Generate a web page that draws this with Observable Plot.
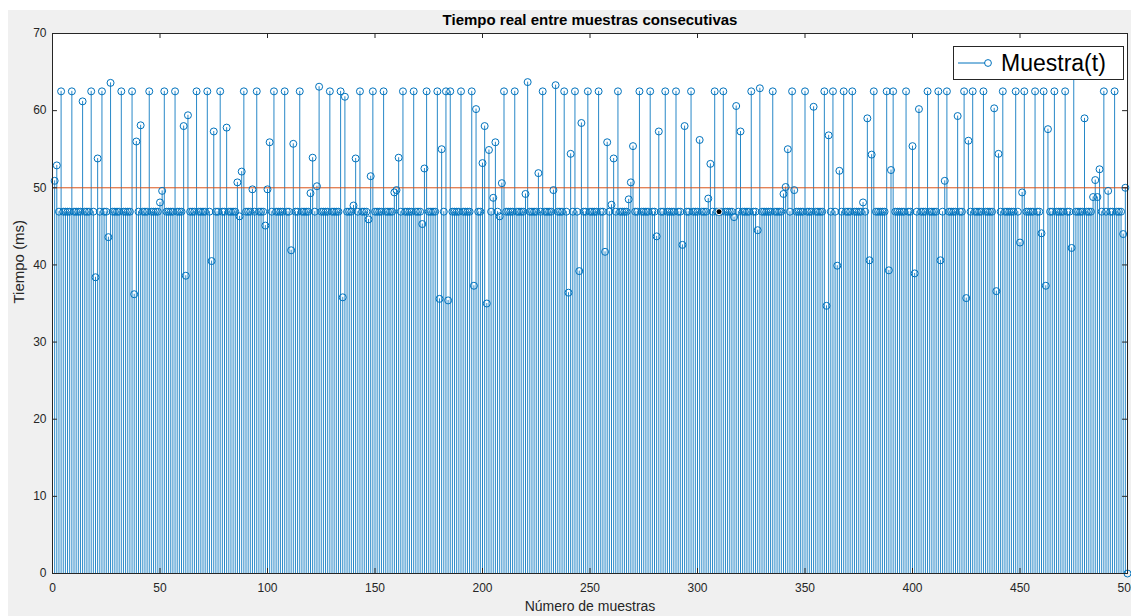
<!DOCTYPE html>
<html>
<head>
<meta charset="utf-8">
<script src="https://cdn.jsdelivr.net/npm/d3@7"></script>
<script src="https://cdn.jsdelivr.net/npm/@observablehq/plot@0.6"></script>
<style>
  body { margin: 0; background: #ffffff; font-family: "Liberation Sans", Arial, sans-serif; }
  #fig { position: absolute; left: 8px; top: 10px; width: 1123px; height: 606px; background: #f0f0f0; }
  #chart { position: absolute; left: 0; top: 0; width: 1131px; height: 616px; }
  #legend {
    position: absolute; left: 953px; top: 46px; width: 171px; height: 34px;
    box-sizing: border-box; border: 1px solid #262626; background: #ffffff;
    display: flex; align-items: center;
  }
  #legend svg { margin-left: 3px; }
  #legend span { font-size: 23px; color: #000; margin-left: 8px; line-height: 1; }
</style>
</head>
<body>
<div id="fig"></div>
<div id="chart"></div>
<div id="legend">
  <svg width="36" height="14"><line x1="1" y1="7" x2="28" y2="7" stroke="#0072BD" stroke-width="1"/><circle cx="31" cy="7" r="3.4" fill="none" stroke="#0072BD" stroke-width="1"/></svg>
  <span>Muestra(t)</span>
</div>
<script>
// Tiempo (ms) medido entre muestras consecutivas, muestras 1..500
const samples = [
  50.9, 52.9, 46.9, 62.5, 46.9, 46.9, 46.9, 46.9, 62.5, 46.9, 46.9, 46.9, 46.9, 61.2, 46.9, 46.9, 46.9, 62.5, 46.9, 38.4,
  53.8, 46.9, 62.5, 46.9, 46.9, 43.6, 63.6, 46.9, 46.9, 46.9, 46.9, 62.5, 46.9, 46.9, 46.9, 46.9, 62.5, 36.2, 56.0, 46.9,
  58.1, 46.9, 46.9, 46.9, 62.5, 46.9, 46.9, 46.9, 46.9, 48.1, 49.6, 62.5, 46.9, 46.9, 46.9, 46.9, 62.5, 46.9, 46.9, 46.9,
  58.0, 38.6, 59.4, 46.9, 46.9, 46.9, 62.5, 46.9, 46.9, 46.9, 46.9, 62.5, 46.9, 40.5, 57.3, 46.9, 46.9, 62.5, 46.9, 46.9,
  57.8, 46.9, 46.9, 46.9, 46.9, 50.7, 46.3, 52.1, 62.5, 46.9, 46.9, 46.9, 49.8, 46.9, 62.5, 46.9, 46.9, 46.9, 45.1, 49.8,
  55.9, 46.9, 62.5, 46.9, 46.9, 46.9, 46.9, 62.5, 46.9, 46.9, 41.9, 55.7, 46.9, 46.9, 62.5, 46.9, 46.9, 46.9, 46.9, 49.3,
  53.9, 46.9, 50.2, 63.1, 46.9, 46.9, 46.9, 46.9, 62.5, 46.9, 46.9, 46.9, 46.9, 62.5, 35.8, 61.8, 46.9, 46.9, 46.9, 47.7,
  53.8, 46.9, 62.5, 46.9, 46.9, 46.9, 45.9, 51.5, 62.5, 46.9, 46.9, 46.9, 46.9, 62.5, 46.9, 46.9, 46.9, 46.9, 49.4, 49.7,
  53.9, 46.9, 62.5, 46.9, 46.9, 46.9, 46.9, 62.5, 46.9, 46.9, 46.9, 45.3, 52.5, 62.5, 46.9, 46.9, 46.9, 46.9, 62.5, 35.6,
  55.0, 46.9, 62.5, 35.4, 62.5, 46.9, 46.9, 46.9, 46.9, 62.5, 46.9, 46.9, 46.9, 46.9, 62.5, 37.3, 60.2, 46.9, 46.9, 53.2,
  58.0, 35.0, 54.9, 46.9, 48.7, 55.9, 46.9, 46.3, 50.6, 62.5, 46.9, 46.9, 46.9, 46.9, 62.5, 46.9, 46.9, 46.9, 46.9, 49.2,
  63.7, 46.9, 46.9, 46.9, 46.9, 51.9, 46.9, 62.5, 46.9, 46.9, 46.9, 46.9, 49.7, 63.3, 46.9, 46.9, 46.9, 62.5, 46.9, 36.4,
  54.4, 46.9, 62.5, 46.9, 39.2, 58.4, 46.9, 46.9, 62.5, 46.9, 46.9, 46.9, 46.9, 62.5, 46.9, 46.9, 41.7, 55.9, 46.9, 47.8,
  53.8, 46.9, 62.5, 46.9, 46.9, 46.9, 46.9, 48.5, 50.7, 55.4, 46.9, 46.9, 62.5, 46.9, 46.9, 46.9, 46.9, 62.5, 46.9, 46.9,
  43.7, 57.3, 46.9, 46.9, 62.5, 46.9, 46.9, 46.9, 46.9, 62.5, 46.9, 46.9, 42.6, 58.0, 46.9, 46.9, 62.5, 46.9, 46.9, 46.9,
  56.2, 46.9, 46.9, 46.9, 48.6, 53.1, 46.9, 62.5, 46.9, 46.9, 46.9, 62.5, 46.9, 46.9, 46.9, 46.9, 46.2, 60.6, 46.9, 57.3,
  46.9, 46.9, 46.9, 46.9, 62.5, 46.9, 46.9, 44.5, 62.9, 46.9, 46.9, 46.9, 46.9, 46.9, 62.5, 46.9, 46.9, 46.9, 46.9, 49.2,
  50.1, 55.0, 46.9, 62.5, 49.7, 46.9, 46.9, 46.9, 46.9, 62.5, 46.9, 46.9, 46.9, 60.5, 46.9, 46.9, 46.9, 46.9, 62.5, 34.7,
  56.8, 46.9, 62.5, 46.9, 39.9, 52.2, 46.9, 62.5, 46.9, 46.9, 46.9, 62.5, 46.9, 46.9, 46.9, 46.9, 48.1, 46.9, 59.0, 40.6,
  54.3, 62.5, 46.9, 46.9, 46.9, 46.9, 46.9, 62.5, 39.3, 52.3, 62.5, 46.9, 46.9, 46.9, 46.9, 46.9, 62.5, 46.9, 46.9, 55.4,
  38.9, 46.9, 60.2, 46.9, 46.9, 46.9, 62.5, 46.9, 46.9, 46.9, 46.9, 62.5, 40.6, 46.9, 50.9, 62.5, 46.9, 46.9, 46.9, 46.9,
  59.3, 46.9, 46.9, 62.5, 35.7, 56.1, 46.9, 62.5, 46.9, 46.9, 46.9, 46.9, 62.5, 46.9, 46.9, 46.9, 46.9, 60.3, 36.6, 54.4,
  46.9, 62.5, 46.9, 46.9, 46.9, 46.9, 46.9, 62.5, 46.9, 42.9, 49.4, 62.5, 46.9, 46.9, 46.9, 46.9, 62.5, 46.9, 46.9, 44.1,
  62.5, 37.3, 57.6, 46.9, 46.9, 62.5, 46.9, 46.9, 46.9, 46.9, 62.5, 46.9, 46.9, 42.2, 66.0, 46.9, 46.9, 46.9, 46.9, 59.0,
  46.9, 46.9, 46.9, 48.8, 51.0, 48.8, 52.4, 46.9, 62.5, 46.9, 49.6, 46.9, 46.9, 62.5, 46.9, 46.9, 46.9, 44.0, 50.0, 0
];

// Periodo nominal de muestreo (línea de referencia)
const nominal = [50];
// Muestra marcada con el cursor de datos
const cursorSample = [310];

const xTicks = [0, 50, 100, 150, 200, 250, 300, 350, 400, 450, 500];
const yTicks = [0, 10, 20, 30, 40, 50, 60, 70];

const data = samples.map((t, i) => ({ n: i + 1, t }));
const marked = data.filter(d => cursorSample.includes(d.n));

const axisColor = "#262626";
const stemColor = "#0072BD";

const chart = Plot.plot({
  width: 1131,
  height: 616,
  marginLeft: 52,
  marginRight: 4,
  marginTop: 33,
  marginBottom: 43,
  style: { background: "transparent", fontFamily: "'Liberation Sans', Arial, sans-serif", color: axisColor },
  x: { domain: [0, 500] },
  y: { domain: [0, 70] },
  marks: [
    Plot.frame({ fill: "#ffffff", stroke: null }),
    // stems
    Plot.ruleX(data, { x: "n", y1: 0, y2: "t", stroke: stemColor, strokeWidth: 0.85 }),
    Plot.ruleY(nominal, { y: d => d, stroke: "#D95319", strokeWidth: 1 }),
    // open circle markers
    Plot.dot(data, { x: "n", y: "t", r: 3.5, stroke: stemColor, strokeWidth: 1, fill: "none" }),
    Plot.dot(marked, { x: "n", y: "t", r: 3, fill: "#000000", stroke: "#ffffff", strokeWidth: 1 }),
    // inward tick marks on all four sides
    Plot.ruleX(xTicks, { x: d => d, y1: 0, y2: 0.65, stroke: axisColor, strokeWidth: 1 }),
    Plot.ruleX(xTicks, { x: d => d, y1: 69.35, y2: 70, stroke: axisColor, strokeWidth: 1 }),
    Plot.ruleY(yTicks, { y: d => d, x1: 0, x2: 2.3, stroke: axisColor, strokeWidth: 1 }),
    Plot.ruleY(yTicks, { y: d => d, x1: 497.7, x2: 500, stroke: axisColor, strokeWidth: 1 }),
    Plot.axisX({ ticks: xTicks, tickSize: 0, tickPadding: 10, fontSize: 12, label: null }),
    Plot.axisY({ ticks: yTicks, tickSize: 0, tickPadding: 6, fontSize: 12, label: null }),
    Plot.frame({ stroke: axisColor, strokeWidth: 1 }),
    Plot.text(["Tiempo real entre muestras consecutivas"], {
      frameAnchor: "top", lineAnchor: "middle", dy: -13, fontSize: 15, fontWeight: "bold", fill: "#000000"
    }),
    Plot.text(["Número de muestras"], {
      frameAnchor: "bottom", lineAnchor: "middle", dy: 33, fontSize: 14, fill: axisColor
    }),
    Plot.text(["Tiempo (ms)"], {
      frameAnchor: "left", dx: -33, rotate: -90, fontSize: 15, fill: axisColor
    })
  ]
});

document.getElementById("chart").appendChild(chart);
</script>
</body>
</html>
